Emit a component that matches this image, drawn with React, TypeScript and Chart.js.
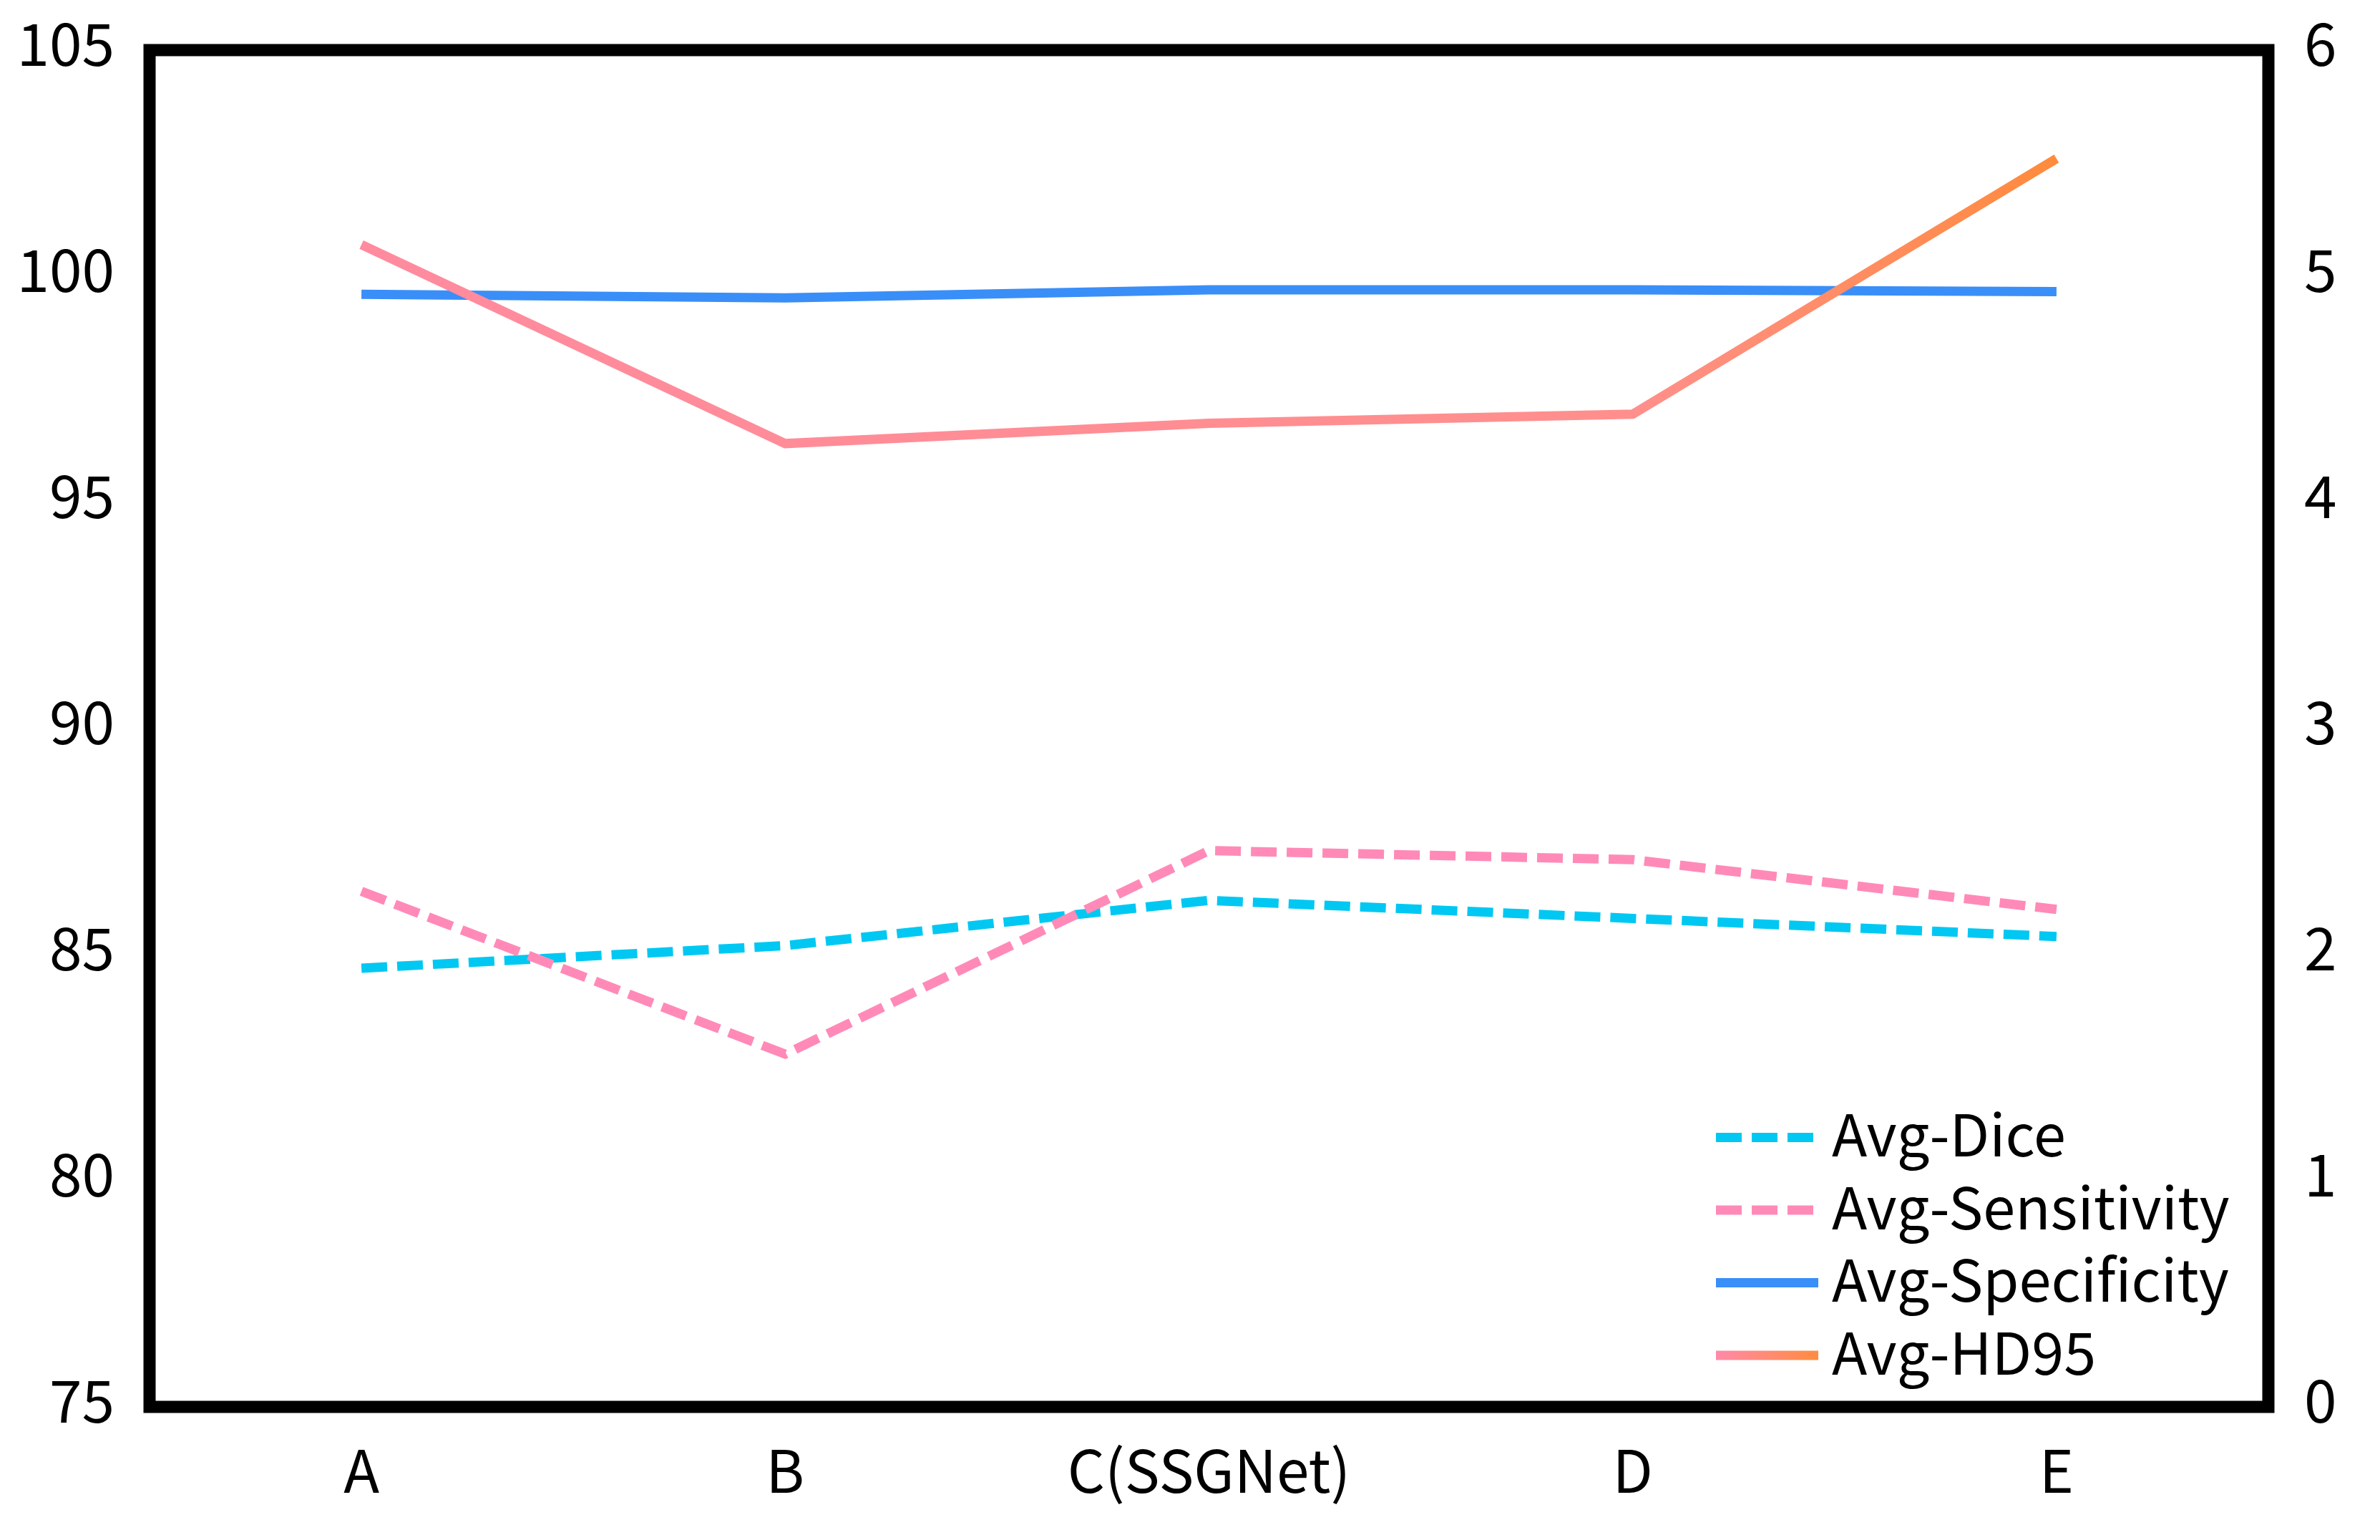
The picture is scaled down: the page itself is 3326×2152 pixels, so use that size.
import React, { useEffect, useRef } from 'react';
import { Chart, registerables } from 'chart.js';

Chart.register(...registerables);

const categories = ['A', 'B', 'C(SSGNet)', 'D', 'E'];
const avgDice = [84.7, 85.2, 86.2, 85.8, 85.4];
const avgSensitivity = [86.4, 82.8, 87.3, 87.1, 86.0];
const avgSpecificity = [99.6, 99.52, 99.7, 99.7, 99.66];
const avgHD95 = [5.14, 4.26, 4.35, 4.39, 5.52];
const leftTicks = [75, 80, 85, 90, 95, 100, 105];
const rightTicks = [0, 1, 2, 3, 4, 5, 6];

const FONT = "'Noto Sans CJK SC', 'Noto Sans', sans-serif";

export default function App() {
  const ref = useRef<HTMLCanvasElement>(null);

  useEffect(() => {
    document.body.style.margin = '0';
    const canvas = ref.current!;

    const hdGradient = (chart: any) => {
      const { ctx, chartArea } = chart;
      if (!chartArea) return '#ff8c9c';
      const g = ctx.createLinearGradient(chartArea.left, 0, chartArea.right, 0);
      g.addColorStop(0, '#ff8aa2');
      g.addColorStop(0.7, '#ff8f8c');
      g.addColorStop(0.93, '#ff8a30');
      g.addColorStop(1, '#ff8a30');
      return g;
    };

    const framePlugin = {
      id: 'frame',
      afterDatasetsDraw(chart: any) {
        const { ctx, chartArea } = chart;
        ctx.save();
        ctx.strokeStyle = '#000';
        ctx.lineWidth = 17;
        ctx.strokeRect(chartArea.left, chartArea.top, chartArea.right - chartArea.left, chartArea.bottom - chartArea.top);
        ctx.restore();
      },
    };

    const legendPlugin = {
      id: 'insideLegend',
      afterDraw(chart: any) {
        const { ctx, chartArea } = chart;
        const ds = chart.data.datasets;
        const sampleLeft = chartArea.right - 772;
        const sampleW = 143;
        const textX = sampleLeft + 162;
        ctx.save();
        ds.forEach((d: any, i: number) => {
          const y = chartArea.bottom - 72 - (ds.length - 1 - i) * 101.5;
          ctx.beginPath();
          ctx.lineWidth = d.borderWidth;
          ctx.setLineDash(d.borderDash || []);
          if (i === 3) {
            const g = ctx.createLinearGradient(sampleLeft, 0, sampleLeft + sampleW, 0);
            g.addColorStop(0, '#ff8aa8');
            g.addColorStop(1, '#ff8c40');
            ctx.strokeStyle = g;
          } else {
            ctx.strokeStyle = d.borderColor;
          }
          ctx.moveTo(sampleLeft, y);
          ctx.lineTo(sampleLeft + sampleW, y);
          ctx.stroke();
          ctx.setLineDash([]);
          ctx.fillStyle = '#000';
          ctx.font = `81px ${FONT}`;
          ctx.textAlign = 'left';
          ctx.textBaseline = 'middle';
          ctx.fillText(d.label, textX, y - 4);
        });
        ctx.restore();
      },
    };

    const tickFont = { family: FONT, size: 82 };
    const noPadY = (s: any, w: number) => {
      s.width = w;
      s.paddingTop = 0;
      s.paddingBottom = 0;
    };

    const chart = new Chart(canvas, {
      type: 'line',
      data: {
        labels: categories,
        datasets: [
          {
            label: 'Avg-Dice',
            data: avgDice,
            yAxisID: 'y',
            borderColor: '#00c8f2',
            borderWidth: 13,
            borderDash: [36, 14],
            pointRadius: 0,
            fill: false,
            order: 3,
          },
          {
            label: 'Avg-Sensitivity',
            data: avgSensitivity,
            yAxisID: 'y',
            borderColor: '#ff8ab8',
            borderWidth: 13,
            borderDash: [36, 14],
            pointRadius: 0,
            fill: false,
            order: 2,
          },
          {
            label: 'Avg-Specificity',
            data: avgSpecificity,
            yAxisID: 'y',
            borderColor: '#3a8ef8',
            borderWidth: 13,
            pointRadius: 0,
            fill: false,
            order: 1,
          },
          {
            label: 'Avg-HD95',
            data: avgHD95,
            yAxisID: 'y1',
            borderColor: (c: any) => hdGradient(c.chart),
            borderWidth: 13,
            pointRadius: 0,
            fill: false,
            order: 0,
          },
        ],
      },
      options: {
        responsive: true,
        maintainAspectRatio: false,
        devicePixelRatio: 1,
        animation: false,
        layout: { padding: { top: 70, left: 0, right: 0, bottom: 0 } },
        plugins: {
          legend: { display: false },
          tooltip: { enabled: false },
        },
        scales: {
          x: {
            type: 'category',
            offset: true,
            grid: { display: false, drawTicks: false },
            border: { display: false },
            ticks: { font: tickFont, color: '#000', padding: 40, maxRotation: 0 },
            afterFit: (s: any) => {
              s.height = 186;
              s.paddingLeft = 0;
              s.paddingRight = 0;
            },
          },
          y: {
            position: 'left',
            min: leftTicks[0],
            max: leftTicks[leftTicks.length - 1],
            afterBuildTicks: (s: any) => { s.ticks = leftTicks.map((v) => ({ value: v })); },
            grid: { display: false, drawTicks: false },
            border: { display: false },
            ticks: { font: tickFont, color: '#000', padding: 49, labelOffset: -9 },
            afterFit: (s: any) => noPadY(s, 209),
          },
          y1: {
            position: 'right',
            min: rightTicks[0],
            max: rightTicks[rightTicks.length - 1],
            afterBuildTicks: (s: any) => { s.ticks = rightTicks.map((v) => ({ value: v })); },
            grid: { display: false, drawTicks: false },
            border: { display: false },
            ticks: { font: tickFont, color: '#000', padding: 50, labelOffset: -9 },
            afterFit: (s: any) => noPadY(s, 156),
          },
        },
      },
      plugins: [framePlugin, legendPlugin],
    });

    return () => chart.destroy();
  }, []);

  return (
    <div style={{ width: 3326, height: 2152, position: 'relative' }}>
      <canvas ref={ref} />
    </div>
  );
}
